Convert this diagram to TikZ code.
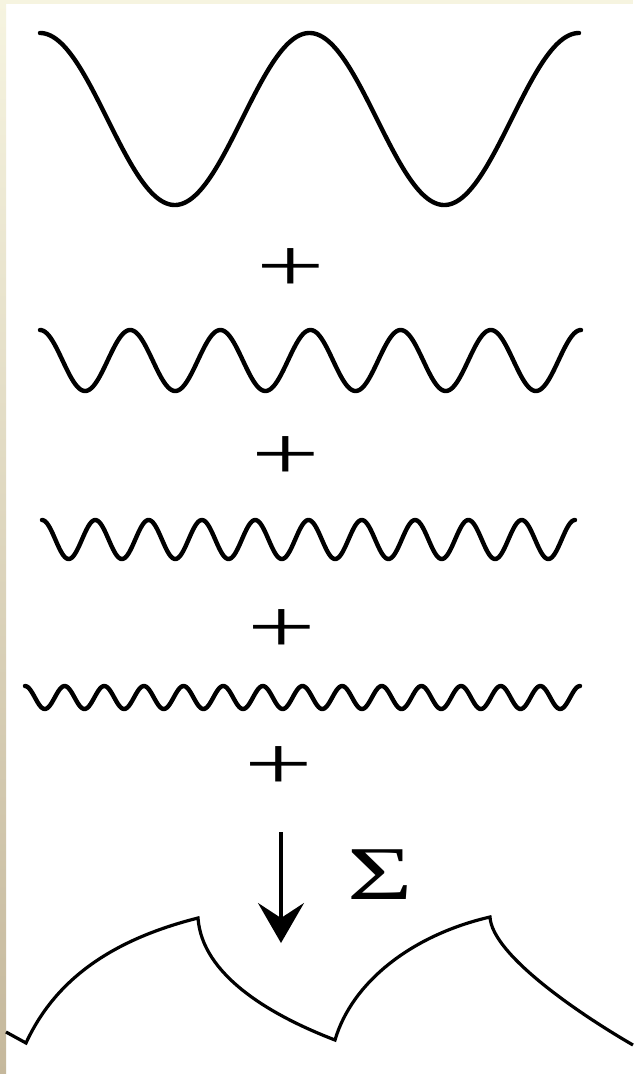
\documentclass[tikz,border=0pt]{standalone}
\usepackage{fontspec}
\usepackage{tikz}
\usetikzlibrary{arrows.meta}
\newfontfamily\glyphfont{Liberation Serif}
\definecolor{stripcream}{RGB}{246,244,224}
\definecolor{stripbeige}{RGB}{226,218,196}
\definecolor{striptan}{RGB}{197,184,156}

\begin{document}
\begin{tikzpicture}[
  x=1pt, y=-1pt,
  wave/.style={draw=black, line width=4.4pt, line join=round, line cap=round},
  sumcurve/.style={draw=black, line width=3.2pt, line join=miter},
  plussign/.style={font=\glyphfont\fontsize{76}{76}\selectfont, xscale=1.6, inner sep=0pt},
  sumsign/.style={font=\glyphfont\fontsize{76}{76}\selectfont, xscale=1.48, inner sep=0pt},
  sumarrow/.style={line width=3.2pt, -{Stealth[length=40pt, width=46pt, inset=15pt]}}
]
  \useasboundingbox (0,0) rectangle (633,1074);
  \fill[white] (0,0) rectangle (633,1074);
  \fill[stripcream] (0,0) rectangle (633,4);
  \shade[top color=stripcream, middle color=stripbeige, bottom color=striptan] (0,0) rectangle (6,1074);

  \foreach \xa/\xb/\nper/\cy/\amp in {40/579/2/119/86, 40/581/6/360.5/30.5,
      42/575/10/539.5/19.5, 25/580/14/697.5/11.5}
    \draw[wave] plot[domain=\xa:\xb, samples=400]
      (\x, {\cy - \amp*cos(360*\nper*((\x-\xa)/(\xb-\xa)))});

  \node[plussign] (plusa) at (291,270) {+};
  \node[plussign] (plusb) at (286,458) {+};
  \node[plussign] (plusc) at (282,631) {+};
  \node[plussign] (plusd) at (279,768) {+};
  \node[sumsign] (sigma) at (380,875) {Σ};

  \coordinate (sumtop) at (281,832);
  \coordinate (sumtip) at (281,943);
  \draw[sumarrow] (sumtop) -- (sumtip);

  \draw[sumcurve] (6,1032) -- (26,1043)
    .. controls (55,980) and (111,940) .. (198,918)
    .. controls (202,975) and (270,1015) .. (335,1040)
    .. controls (352,982) and (412,935) .. (490,917)
    .. controls (492,955) and (581,1015) .. (633,1045);
\end{tikzpicture}
\end{document}
